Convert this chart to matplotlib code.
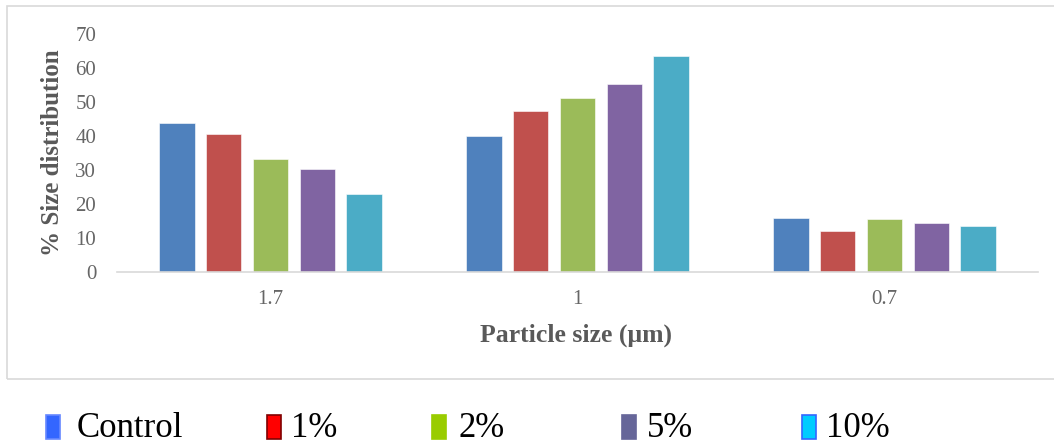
import numpy as np
import matplotlib.pyplot as plt
from matplotlib.patches import Rectangle

# Particle size distribution for each additive level
sizes = ['1.7', '1', '0.7']
series = ['Control', '1%', '2%', '5%', '10%']
control = [43.7, 40.1, 15.8]
pct1 = [40.5, 47.4, 12.0]
pct2 = [33.1, 51.1, 15.5]
pct5 = [30.2, 55.2, 14.4]
pct10 = [22.8, 63.5, 13.4]
values = [control, pct1, pct2, pct5, pct10]

bar_colors = ['#4F81BD', '#C0504D', '#9BBB59', '#8064A2', '#4BACC6']
key_colors = ['#3366FF', '#FF0000', '#99CC00', '#666699', '#00CCFF']
key_edges = ['#6688FF', '#800000', '#99CC00', '#666699', '#3366FF']

W, H = 1054, 444
fig = plt.figure(figsize=(W / 100, H / 100), dpi=100)
plt.rcParams['font.family'] = ['Liberation Serif', 'DejaVu Serif']

def fx(px):
    return px / W

def fy(py):
    return 1 - py / H

# light frame around the chart area
fig.add_artist(Rectangle((fx(7), fy(379)), fx(1060) - fx(7), fy(6) - fy(379),
                         transform=fig.transFigure, fill=False,
                         edgecolor='#D9D9D9', linewidth=1.2))

ax = fig.add_axes([fx(117), fy(272), fx(1038) - fx(117), fy(34) - fy(272)])
x = np.arange(len(sizes))
step, width = 0.153, 0.117
for i, (vals, col) in enumerate(zip(values, bar_colors)):
    ax.bar(x + (i - 2) * step, vals, width, color=col,
           edgecolor='white', linewidth=0.4, label=series[i])

ax.set_xlim(-0.5, 2.5)
ax.set_ylim(0, 70)
ax.set_yticks(range(0, 71, 10))
ax.set_xticks(x)
ax.set_xticklabels(sizes)
for s in ['top', 'right', 'left']:
    ax.spines[s].set_visible(False)
ax.spines['bottom'].set_color('#D9D9D9')
ax.spines['bottom'].set_linewidth(1.2)
ax.tick_params(axis='both', length=0, labelsize=15, colors='#666666')
ax.tick_params(axis='y', pad=15)
ax.tick_params(axis='x', pad=13)

fig.text(fx(53), fy(153), '% Size distribution', rotation=90, ha='center',
         va='center', fontsize=18, fontweight='bold', color='#595959')
fig.text(fx(576), fy(335), 'Particle size (\u03bcm)', ha='center', va='center',
         fontsize=18.5, fontweight='bold', color='#595959')

# key row under the frame
key_x = [46, 267, 432, 622, 802]
text_x = [77, 291, 459, 647, 826]
for name, kx, tx, fc, ec in zip(series, key_x, text_x, key_colors, key_edges):
    fig.add_artist(Rectangle((fx(kx), fy(439)), fx(14), fy(415) - fy(439),
                             transform=fig.transFigure, facecolor=fc,
                             edgecolor=ec, linewidth=1.2))
    fig.text(fx(tx), fy(437), name, ha='left', va='baseline',
             fontsize=25, color='black')

fig.savefig('out.png', dpi=100)
